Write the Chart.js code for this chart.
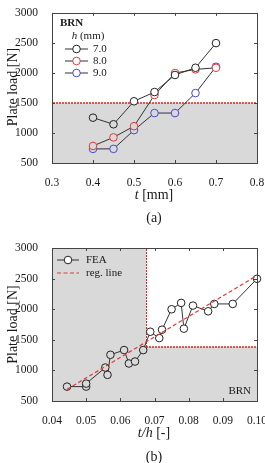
<!DOCTYPE html>
<html><head><meta charset="utf-8">
<script src="https://cdn.jsdelivr.net/npm/chart.js@4/dist/chart.umd.min.js"></script>
<style>
html,body{margin:0;padding:0;background:#fff;width:265px;height:463px;overflow:hidden;position:relative;}
#wa{position:absolute;left:0;top:0;width:280px;height:230px;}
#wb{position:absolute;left:0;top:230px;width:280px;height:240px;}
canvas{display:block;}
</style></head><body>
<div id="wa"><canvas id="ca" width="280" height="230"></canvas></div>
<div id="wb"><canvas id="cb" width="280" height="240"></canvas></div>
<script>
// ---------- data: chart (a) ----------
const tValues = [0.4, 0.45, 0.5, 0.55, 0.6, 0.65, 0.7];
const hLabels = ['7.0', '8.0', '9.0'];
const load_h70 = [1255, 1145, 1528, 1682, 1966, 2086, 2497];
const load_h80 = [784, 927, 1113, 1632, 1999, 2059, 2086];
const load_h90 = [735, 735, 1047, 1332, 1332, 1665, 2103];
const xTicksA = [0.3, 0.4, 0.5, 0.6, 0.7, 0.8];
const xTickLabelsA = ['0.3', '0.4', '0.5', '0.6', '0.7', '0.8'];
const yTicks = [500, 1000, 1500, 2000, 2500, 3000];
const yTickLabels = ['500', '1000', '1500', '2000', '2500', '3000'];
const limitA = 1500;

// ---------- data: chart (b) ----------
const tOverH = [0.0444, 0.05, 0.05, 0.0556, 0.05625, 0.0571, 0.0611, 0.0625, 0.0643, 0.0667, 0.06875,
                0.0714, 0.0722, 0.075, 0.0778, 0.0786, 0.08125, 0.0857, 0.0875, 0.0929, 0.1];
const loadFEA = [735, 735, 784, 1047, 927, 1255, 1332, 1113, 1145, 1332, 1632,
                 1528, 1665, 1999, 2103, 1682, 2059, 1966, 2086, 2086, 2497];
const regX = [0.0444, 0.1];
const regY = [690, 2550];
const xTicksB = [0.04, 0.05, 0.06, 0.07, 0.08, 0.09, 0.10];
const xTickLabelsB = ['0.04', '0.05', '0.06', '0.07', '0.08', '0.09', '0.10'];
const limitBx = 0.0676;
const limitBy = 1390;

// ---------- styles ----------
const FONT = '"Liberation Serif", "Times New Roman", serif';
const SHADE = '#d9d9d9';
const LIMIT_RED = '#e52222';
const seriesColors = ['#222222', '#e03a3a', '#4848d6'];
const LINE_COLOR = '#333333';

function fontStr(s, size) {
  return (s.italic ? 'italic ' : '') + (s.bold ? 'bold ' : '') + size + 'px ' + FONT;
}
function drawRich(ctx, segs, x, y, size, align, rotate) {
  ctx.save();
  ctx.translate(x, y);
  if (rotate) ctx.rotate(-Math.PI / 2);
  ctx.fillStyle = '#1a1a1a';
  ctx.textBaseline = 'middle';
  ctx.textAlign = 'left';
  let total = 0;
  const widths = segs.map(s => { ctx.font = fontStr(s, size); const w = ctx.measureText(s.text).width; total += w; return w; });
  let cx = align === 'center' ? -total / 2 : (align === 'right' ? -total : 0);
  segs.forEach((s, i) => { ctx.font = fontStr(s, size); ctx.fillText(s.text, cx, 0); cx += widths[i]; });
  ctx.restore();
}
function legendSample(ctx, x1, x2, y, lineColor, markColor, withPoint, dash) {
  ctx.save();
  ctx.strokeStyle = lineColor;
  ctx.lineWidth = withPoint ? 1 : 1.2;
  if (dash) ctx.setLineDash(dash);
  ctx.beginPath(); ctx.moveTo(x1, y); ctx.lineTo(x2, y); ctx.stroke();
  ctx.setLineDash([]);
  if (withPoint) {
    const cx = (x1 + x2) / 2;
    ctx.fillStyle = '#fff';
    ctx.strokeStyle = markColor;
    ctx.lineWidth = 1;
    ctx.beginPath(); ctx.arc(cx, y, 3.8, 0, Math.PI * 2); ctx.fill(); ctx.stroke();
  }
  ctx.restore();
}
function dottedLine(ctx, x1, y1, x2, y2) {
  const horiz = (y1 === y2);
  ctx.save();
  ctx.strokeStyle = LIMIT_RED;
  ctx.lineWidth = horiz ? 1.6 : 1;
  ctx.setLineDash([2, 1]);
  ctx.beginPath();
  ctx.moveTo(Math.round(x1) + (horiz ? 0 : 0.5), Math.round(y1));
  ctx.lineTo(Math.round(x2) + (horiz ? 0 : 0.5), Math.round(y2));
  ctx.stroke();
  ctx.restore();
}
function frameAndTicks(chart, xt, yt) {
  const ctx = chart.ctx, a = chart.chartArea;
  const xs = chart.scales.x, ys = chart.scales.y;
  ctx.save();
  ctx.strokeStyle = '#444';
  ctx.lineWidth = 1;
  ctx.beginPath();
  xt.forEach(v => {
    const px = Math.round(xs.getPixelForValue(v)) + 0.5;
    ctx.moveTo(px, a.bottom); ctx.lineTo(px, a.bottom - 3);
    ctx.moveTo(px, a.top); ctx.lineTo(px, a.top + 3);
  });
  yt.forEach(v => {
    const py = Math.round(ys.getPixelForValue(v)) + 0.5;
    ctx.moveTo(a.left, py); ctx.lineTo(a.left + 3, py);
    ctx.moveTo(a.right, py); ctx.lineTo(a.right - 3, py);
  });
  ctx.stroke();
  ctx.strokeRect(Math.round(a.left) + 0.5, Math.round(a.top) + 0.5, Math.round(a.right - a.left), Math.round(a.bottom - a.top));
  ctx.restore();
}

function scaleCfg(min, max, ticks, labels, fixedSize, isX) {
  const c = {
    type: 'linear', min: min, max: max,
    grid: { display: false }, border: { display: false },
    afterBuildTicks: s => { s.ticks = ticks.map(v => ({ value: v })); },
    ticks: {
      callback: (v, i) => labels[i],
      font: { family: FONT, size: 11.5 }, color: '#1a1a1a',
      padding: isX ? 5 : 6, maxRotation: 0, autoSkip: false
    }
  };
  if (isX) c.afterFit = s => { s.height = fixedSize; };
  else c.afterFit = s => { s.width = fixedSize; };
  return c;
}

// ---------- chart (a) ----------
const seriesA = [load_h70, load_h80, load_h90];
const decorA = {
  id: 'decorA',
  beforeDatasetsDraw(chart) {
    const ctx = chart.ctx, a = chart.chartArea, ys = chart.scales.y;
    const yl = Math.round(ys.getPixelForValue(limitA));
    ctx.save();
    ctx.fillStyle = SHADE;
    ctx.fillRect(a.left, yl, a.right - a.left, a.bottom - yl);
    ctx.restore();
    dottedLine(ctx, a.left + 1, yl, a.right - 1, yl);
  },
  afterDraw(chart) {
    const ctx = chart.ctx;
    frameAndTicks(chart, xTicksA, yTicks);
    drawRich(ctx, [{ text: 'Plate load [N]' }], 13, 87, 14, 'center', true);
    drawRich(ctx, [{ text: 't', italic: true }, { text: ' [mm]' }], 154, 195, 14, 'center');
    drawRich(ctx, [{ text: '(a)' }], 154, 218, 14, 'center');
    drawRich(ctx, [{ text: 'BRN', bold: true }], 60, 23, 11, 'left');
    drawRich(ctx, [{ text: 'h', italic: true }, { text: ' (mm)' }], 88, 36, 11, 'center');
    const ly = [49, 61, 73];
    hLabels.forEach((lab, i) => {
      legendSample(ctx, 65, 88, ly[i], LINE_COLOR, seriesColors[i], true);
      drawRich(ctx, [{ text: lab }], 93, ly[i], 11, 'left');
    });
  }
};
new Chart(document.getElementById('ca'), {
  type: 'scatter',
  data: {
    datasets: seriesA.map((arr, k) => ({
      label: hLabels[k],
      data: tValues.map((t, i) => ({ x: t, y: arr[i] })),
      showLine: true,
      borderColor: LINE_COLOR,
      borderWidth: 1,
      pointRadius: 3.8,
      pointBorderWidth: 1,
      pointBorderColor: seriesColors[k],
      pointBackgroundColor: c => (c.raw && c.raw.y < limitA) ? SHADE : '#ffffff',
      clip: false
    }))
  },
  options: {
    responsive: false, animation: false, devicePixelRatio: 1,
    layout: { padding: { left: 0, top: 11, right: 23, bottom: 0 } },
    plugins: { legend: { display: false }, tooltip: { enabled: false }, title: { display: false } },
    scales: {
      x: scaleCfg(0.3, 0.8, xTicksA, xTickLabelsA, 67, true),
      y: scaleCfg(500, 3000, yTicks, yTickLabels, 52, false)
    }
  },
  plugins: [decorA]
});

// ---------- chart (b) ----------
const decorB = {
  id: 'decorB',
  beforeDatasetsDraw(chart) {
    const ctx = chart.ctx, a = chart.chartArea, xs = chart.scales.x, ys = chart.scales.y;
    const xl = Math.round(xs.getPixelForValue(limitBx)), yl = Math.round(ys.getPixelForValue(limitBy));
    ctx.save();
    ctx.fillStyle = SHADE;
    ctx.fillRect(a.left, a.top, xl - a.left, a.bottom - a.top);
    ctx.fillRect(xl, yl, a.right - xl, a.bottom - yl);
    ctx.restore();
    dottedLine(ctx, xl, a.top + 1, xl, yl);
    dottedLine(ctx, xl, yl, a.right - 1, yl);
  },
  afterDraw(chart) {
    const ctx = chart.ctx;
    frameAndTicks(chart, xTicksB, yTicks);
    drawRich(ctx, [{ text: 'Plate load [N]' }], 13, 94.5, 14, 'center', true);
    drawRich(ctx, [{ text: 't/h', italic: true }, { text: ' [-]' }], 154, 203, 14, 'center');
    drawRich(ctx, [{ text: '(b)' }], 154, 227, 14, 'center');
    legendSample(ctx, 57, 79, 30, LINE_COLOR, '#222222', true);
    drawRich(ctx, [{ text: 'FEA' }], 86, 30, 11, 'left');
    legendSample(ctx, 57, 79, 43, '#e03a3a', null, false, [4, 2.5]);
    drawRich(ctx, [{ text: 'reg. line' }], 86, 43, 11, 'left');
    drawRich(ctx, [{ text: 'BRN' }], 251, 161, 11, 'right');
  }
};
new Chart(document.getElementById('cb'), {
  type: 'scatter',
  data: {
    datasets: [
      {
        label: 'FEA',
        data: tOverH.map((x, i) => ({ x: x, y: loadFEA[i] })),
        showLine: true,
        borderColor: LINE_COLOR, borderWidth: 1,
        pointRadius: 3.8, pointBorderWidth: 1, pointBorderColor: '#222222',
        pointBackgroundColor: c => (c.raw && (c.raw.x < limitBx || c.raw.y < limitBy)) ? SHADE : '#ffffff',
        clip: false, order: 1
      },
      {
        label: 'reg. line',
        data: regX.map((x, i) => ({ x: x, y: regY[i] })),
        showLine: true,
        borderColor: '#e03a3a', borderWidth: 1.2, borderDash: [4, 2.5],
        pointRadius: 0, clip: false, order: 0
      }
    ]
  },
  options: {
    responsive: false, animation: false, devicePixelRatio: 1,
    layout: { padding: { left: 0, top: 18, right: 23, bottom: 0 } },
    plugins: { legend: { display: false }, tooltip: { enabled: false }, title: { display: false } },
    scales: {
      x: scaleCfg(0.04, 0.10, xTicksB, xTickLabelsB, 69, true),
      y: scaleCfg(500, 3000, yTicks, yTickLabels, 52, false)
    }
  },
  plugins: [decorB]
});
</script>
</body></html>
